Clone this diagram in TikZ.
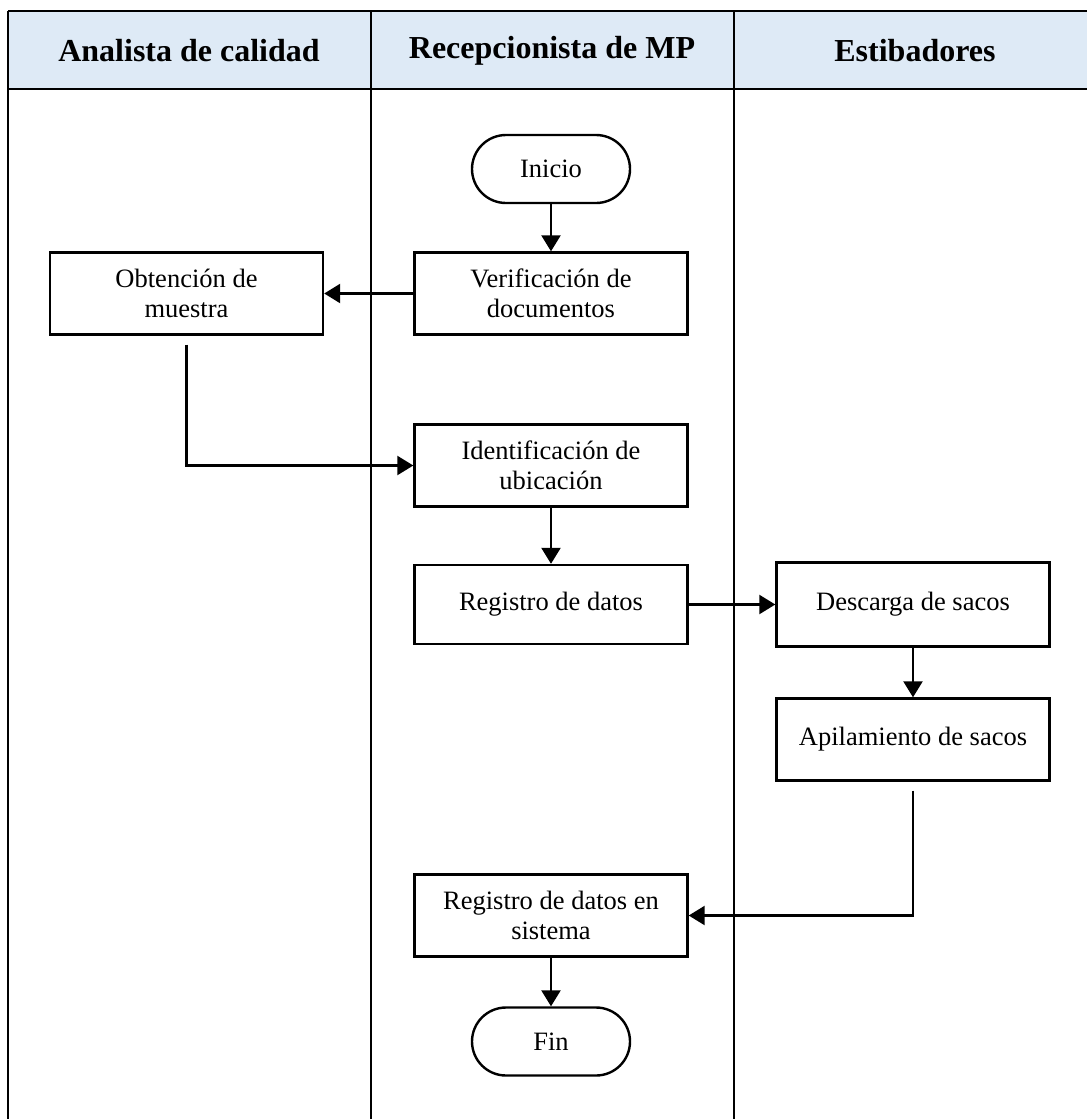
\documentclass[tikz,border=0pt]{standalone}
\usepackage{fontspec}
\setmainfont{Liberation Serif}
\usetikzlibrary{arrows.meta}
\definecolor{headfill}{RGB}{222,234,246}
\newcommand\bodytext{\fontsize{26.5}{30}\selectfont}
\newcommand\headtext{\fontsize{32}{36}\selectfont\bfseries}
\tikzset{
  laneline/.style={line width=2.6pt},
  proc/.style={draw, line width=2.4pt, minimum width=273pt, minimum height=82pt,
               align=center, inner sep=2pt, font=\bodytext},
  term/.style={draw, line width=2.4pt, rounded corners=34pt, minimum width=158pt,
               minimum height=68pt, align=center, font=\bodytext},
  flow/.style={line width=2.4pt, -{Triangle[length=16pt,width=19pt]}},
  lanehead/.style={font=\headtext, anchor=center}
}
\begin{document}
\begin{tikzpicture}[x=1pt,y=-1pt]
\useasboundingbox (0,0) rectangle (1087,1119);

% swimlane table
\fill[headfill] (8,11) rectangle (1087,89);
\draw[laneline] (8,11) -- (1087,11);
\draw[laneline] (8,89) -- (1087,89);
\draw[laneline] (8,11) -- (8,1119);
\draw[laneline] (371,11) -- (371,1119);
\draw[laneline] (734,11) -- (734,1119);

\node[lanehead] (h1) at (189,51) {Analista de calidad};
\node[lanehead] (h2) at (552,51) {Recepcionista de MP};
\node[lanehead] (h3) at (915,51) {Estibadores};

% process steps
\node[term] (inicio) at (551,169) {Inicio};
\node[proc] (verif) at (551,293.5) {Verificación de\\documentos};
\node[proc] (obten) at (186.5,293.5) {Obtención de\\muestra};
\node[proc] (ident) at (551,465.5) {Identificación de\\ubicación};
\node[proc, minimum height=79pt] (reg) at (551,604.5) {Registro de datos};
\node[proc, minimum height=84pt] (desc) at (913,604.5) {Descarga de sacos};
\node[proc] (apil) at (913,739.5) {Apilamiento de sacos};
\node[proc] (regsis) at (551,915.5) {Registro de datos en\\sistema};
\node[term] (fin) at (551,1041.5) {Fin};

% connectors
\draw[flow] (inicio) -- (verif);
\draw[flow] (verif.west) -- (obten.east);
\draw[flow, shorten <=9pt] (obten.south) |- (ident.west);
\draw[flow] (ident) -- (reg);
\draw[flow] (reg.east) -- (desc.west);
\draw[flow] (desc) -- (apil);
\draw[flow, shorten <=9pt] (apil.south) |- (regsis.east);
\draw[flow] (regsis) -- (fin);
\end{tikzpicture}
\end{document}
